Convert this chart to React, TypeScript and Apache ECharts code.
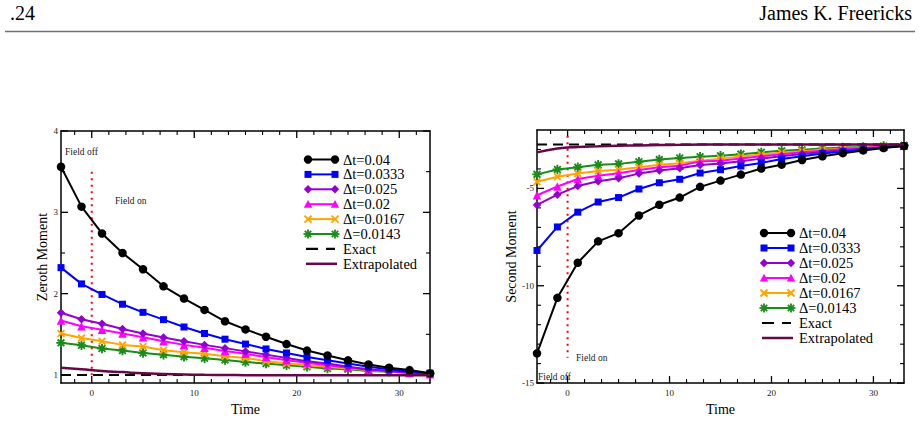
import React, { useEffect, useRef } from "react";
import * as echarts from "echarts";

// ---------- DATA ----------
const times = [-3, -1, 1, 3, 5, 7, 9, 11, 13, 15, 17, 19, 21, 23, 25, 27, 29, 31, 33];
const legendNames = ["Δt=0.04", "Δt=0.0333", "Δt=0.025", "Δt=0.02", "Δt=0.0167", "Δ=0.0143", "Exact", "Extrapolated"];

const zerothDt040 = [3.56, 3.07, 2.74, 2.50, 2.30, 2.09, 1.94, 1.80, 1.66, 1.56, 1.47, 1.38, 1.30, 1.24, 1.18, 1.13, 1.09, 1.06, 1.02];
const zerothDt0333 = [2.32, 2.12, 1.99, 1.87, 1.77, 1.68, 1.59, 1.51, 1.44, 1.38, 1.32, 1.27, 1.22, 1.18, 1.14, 1.10, 1.07, 1.04, 1.02];
const zerothDt025 = [1.765, 1.685, 1.63, 1.565, 1.51, 1.46, 1.415, 1.37, 1.33, 1.29, 1.25, 1.21, 1.17, 1.14, 1.10, 1.07, 1.05, 1.03, 1.01];
const zerothDt020 = [1.67, 1.60, 1.555, 1.51, 1.465, 1.415, 1.37, 1.335, 1.295, 1.26, 1.22, 1.18, 1.15, 1.12, 1.09, 1.065, 1.045, 1.025, 1.01];
const zerothDt0167 = [1.51, 1.455, 1.415, 1.37, 1.35, 1.305, 1.28, 1.26, 1.23, 1.21, 1.17, 1.14, 1.12, 1.10, 1.08, 1.06, 1.04, 1.02, 1.01];
const zerothDt0143 = [1.395, 1.365, 1.325, 1.30, 1.27, 1.25, 1.225, 1.205, 1.185, 1.16, 1.14, 1.12, 1.10, 1.08, 1.07, 1.05, 1.04, 1.03, 1.02];
const zerothExactT = [-3, 33];
const zerothExact = [1.0, 1.0];
const zerothExtrap = [1.09, 1.07, 1.05, 1.035, 1.02, 1.012, 1.006, 1.002, 1.0, 0.998, 0.997, 0.996, 0.996, 0.996, 0.996, 0.996, 0.996, 0.996, 0.996];
const zerothFieldT = [0, 0];
const zerothFieldY = [3.5, 1.0];

const secondDt040 = [-13.47, -10.62, -8.82, -7.72, -7.30, -6.39, -5.84, -5.47, -4.92, -4.60, -4.29, -3.98, -3.78, -3.54, -3.35, -3.19, -3.05, -2.93, -2.82];
const secondDt0333 = [-8.19, -6.98, -6.22, -5.70, -5.47, -5.03, -4.71, -4.53, -4.21, -4.04, -3.85, -3.69, -3.49, -3.35, -3.21, -3.11, -3.02, -2.90, -2.82];
const secondDt025 = [-5.85, -5.32, -4.88, -4.63, -4.48, -4.24, -4.08, -3.97, -3.80, -3.72, -3.60, -3.47, -3.35, -3.23, -3.13, -3.04, -2.96, -2.89, -2.81];
const secondDt020 = [-5.35, -4.90, -4.52, -4.35, -4.22, -4.06, -3.91, -3.83, -3.62, -3.58, -3.46, -3.35, -3.24, -3.14, -3.06, -2.98, -2.92, -2.86, -2.80];
const secondDt0167 = [-4.66, -4.40, -4.24, -4.11, -4.04, -3.91, -3.79, -3.71, -3.58, -3.47, -3.36, -3.26, -3.17, -3.09, -3.02, -2.96, -2.90, -2.85, -2.80];
const secondDt0143 = [-4.28, -4.03, -3.91, -3.79, -3.74, -3.63, -3.52, -3.44, -3.37, -3.32, -3.24, -3.15, -3.07, -3.02, -2.95, -2.90, -2.87, -2.82, -2.79];
const secondExactT = [-3, 33];
const secondExact = [-2.74, -2.74];
const secondExtrap = [-3.15, -2.95, -2.87, -2.84, -2.81, -2.79, -2.77, -2.76, -2.75, -2.74, -2.74, -2.74, -2.74, -2.74, -2.74, -2.74, -2.74, -2.74, -2.74];
const secondFieldT = [0, 0];
const secondFieldY = [-2.3, -13.7];

const timeRange = [-3, 33];
const zerothRange = [0.9, 4];
const secondRange = [-15, -2];
const xMajorTicks = [0, 10, 20, 30];
const xMinorTicks = [-1.667, 1.667, 3.333, 5, 6.667, 8.333, 11.667, 13.333, 15, 16.667, 18.333, 21.667, 23.333, 25, 26.667, 28.333, 31.667];
const zerothMajorTicks = [1, 2, 3, 4];
const zerothMinorTicks = [1.5, 2.5, 3.5];
const secondMajorTicks = [-15, -10, -5];
const secondMinorTicks = [-14, -13, -12, -11, -9, -8, -7, -6, -4, -3];

// ---------- STYLE ----------
const SERIF = '"Liberation Serif", "DejaVu Serif", serif';
const COLORS = ["#000000", "#0000ff", "#9400d3", "#ff00ff", "#ffa500", "#1a8c1a", "#000000", "#670748"];
const CROSS_PATH = "path://M2.83,-4.24L4.24,-2.83L-2.83,4.24L-4.24,2.83ZM-4.24,-2.83L-2.83,-4.24L4.24,2.83L2.83,4.24Z";
const STAR_PATH =
  "path://M-1,-5L1,-5L1,5L-1,5ZM-5,-1L5,-1L5,1L-5,1ZM2.83,-4.24L4.24,-2.83L-2.83,4.24L-4.24,2.83ZM-4.24,-2.83L-2.83,-4.24L4.24,2.83L2.83,4.24Z";
const SYMBOLS = ["circle", "rect", "diamond", "triangle", CROSS_PATH, STAR_PATH];
const SYMBOL_SIZES = [8.5, 7, 8.5, 8.5, 8, 9.5];
const MARKER_KINDS = ["circle", "rect", "diamond", "triangle", "cross", "star"];

const zip = (xs: number[], ys: number[]) => xs.map((x, i) => [x, ys[i]]);

function axesFor(grid: number, dim: "x" | "y", range: number[], majors: number[], name: string, nameGap: number, labelMargin: number) {
  const isX = dim === "x";
  const base = { gridIndex: grid, type: "value", min: range[0], max: range[1], splitLine: { show: false }, axisTick: { show: false } };
  const line = { show: true, onZero: false, lineStyle: { color: "#000", width: 1.5 } };
  return [
    {
      ...base,
      position: isX ? "bottom" : "left",
      name,
      nameLocation: "middle",
      nameGap,
      nameTextStyle: { fontFamily: SERIF, fontSize: 14, color: "#000" },
      axisLine: line,
      axisLabel: { show: true, customValues: majors, fontFamily: SERIF, fontSize: 9, color: "#222", margin: labelMargin },
    },
    { ...base, position: isX ? "top" : "right", axisLine: line, axisLabel: { show: false } },
  ];
}

function seriesFor(axisIdx: number, curves: number[][], exactT: number[], exact: number[], extrap: number[], fieldT: number[], fieldY: number[]) {
  const out: any[] = [];
  out.push({
    type: "line",
    name: "Field",
    xAxisIndex: axisIdx,
    yAxisIndex: axisIdx,
    data: zip(fieldT, fieldY),
    symbol: "none",
    lineStyle: { color: "#ff0000", width: 2, type: [2, 4.5] },
    z: 1,
  });
  curves.forEach((vals, i) => {
    out.push({
      type: "line",
      name: legendNames[i],
      xAxisIndex: axisIdx,
      yAxisIndex: axisIdx,
      data: zip(times, vals),
      symbol: SYMBOLS[i],
      symbolSize: SYMBOL_SIZES[i],
      showSymbol: true,
      lineStyle: { color: COLORS[i], width: 2 },
      itemStyle: { color: COLORS[i] },
      z: 2 + (curves.length - i),
    });
  });
  out.push({
    type: "line",
    name: legendNames[6],
    xAxisIndex: axisIdx,
    yAxisIndex: axisIdx,
    data: zip(exactT, exact),
    symbol: "none",
    lineStyle: { color: COLORS[6], width: 2, type: [10, 6] },
    z: 9,
  });
  out.push({
    type: "line",
    name: legendNames[7],
    xAxisIndex: axisIdx,
    yAxisIndex: axisIdx,
    data: zip(times, extrap),
    symbol: "none",
    smooth: true,
    lineStyle: { color: COLORS[7], width: 2.5 },
    z: 10,
  });
  return out;
}

function marker(kind: string, cx: number, cy: number, color: string): any[] {
  switch (kind) {
    case "circle":
      return [{ type: "circle", shape: { cx, cy, r: 4.2 }, style: { fill: color } }];
    case "rect":
      return [{ type: "rect", shape: { x: cx - 3.5, y: cy - 3.5, width: 7, height: 7 }, style: { fill: color } }];
    case "diamond":
      return [{ type: "polygon", shape: { points: [[cx, cy - 4.2], [cx + 4.2, cy], [cx, cy + 4.2], [cx - 4.2, cy]] }, style: { fill: color } }];
    case "triangle":
      return [{ type: "polygon", shape: { points: [[cx, cy - 4.2], [cx + 4.2, cy + 3.6], [cx - 4.2, cy + 3.6]] }, style: { fill: color } }];
    case "cross":
      return [
        { type: "line", shape: { x1: cx - 3.5, y1: cy - 3.5, x2: cx + 3.5, y2: cy + 3.5 }, style: { stroke: color, lineWidth: 2 } },
        { type: "line", shape: { x1: cx - 3.5, y1: cy + 3.5, x2: cx + 3.5, y2: cy - 3.5 }, style: { stroke: color, lineWidth: 2 } },
      ];
    case "star":
      return [
        { type: "line", shape: { x1: cx - 4.5, y1: cy, x2: cx + 4.5, y2: cy }, style: { stroke: color, lineWidth: 1.8 } },
        { type: "line", shape: { x1: cx, y1: cy - 4.5, x2: cx, y2: cy + 4.5 }, style: { stroke: color, lineWidth: 1.8 } },
        { type: "line", shape: { x1: cx - 3.2, y1: cy - 3.2, x2: cx + 3.2, y2: cy + 3.2 }, style: { stroke: color, lineWidth: 1.8 } },
        { type: "line", shape: { x1: cx - 3.2, y1: cy + 3.2, x2: cx + 3.2, y2: cy - 3.2 }, style: { stroke: color, lineWidth: 1.8 } },
      ];
  }
  return [];
}

function legendGraphic(x1: number, x2: number, textX: number, y0: number, dy: number): any[] {
  const els: any[] = [];
  legendNames.forEach((nm, i) => {
    const y = y0 + i * dy;
    const color = COLORS[i];
    if (i < 6) {
      els.push({ type: "line", shape: { x1, y1: y, x2, y2: y }, style: { stroke: color, lineWidth: 2 } });
      els.push(...marker(MARKER_KINDS[i], x1, y, color));
      els.push(...marker(MARKER_KINDS[i], x2, y, color));
    } else if (i === 6) {
      els.push({ type: "line", shape: { x1: x1 - 2, y1: y, x2, y2: y }, style: { stroke: color, lineWidth: 2.2, lineDash: [12, 8] } });
    } else {
      els.push({ type: "line", shape: { x1: x1 - 2, y1: y, x2: x2 + 2, y2: y }, style: { stroke: color, lineWidth: 2.5 } });
    }
    els.push({
      type: "text",
      x: textX,
      y,
      style: { text: nm, fontFamily: SERIF, fontSize: 14.5, fill: "#000", align: "left", verticalAlign: "middle" },
    });
  });
  return els;
}

const smallText = (text: string, x: number, y: number) => ({
  type: "text",
  x,
  y,
  style: { text, fontFamily: SERIF, fontSize: 9.5, fill: "#222", align: "left", verticalAlign: "middle" },
});

// frame ticks (inside, mirrored on all four sides), positioned through the chart's own scales
function tickGraphic(chart: any, grid: number, xr: number[], yr: number[], xMaj: number[], xMin: number[], yMaj: number[], yMin: number[]): any[] {
  const els: any[] = [];
  const px = (x: number, y: number) => chart.convertToPixel({ gridIndex: grid }, [x, y]);
  const st = (w: number) => ({ stroke: "#000", lineWidth: w });
  const addX = (vals: number[], len: number, w: number) =>
    vals.forEach((v) => {
      const b = px(v, yr[0]);
      const t = px(v, yr[1]);
      els.push({ type: "line", shape: { x1: b[0], y1: b[1], x2: b[0], y2: b[1] - len }, style: st(w) });
      els.push({ type: "line", shape: { x1: t[0], y1: t[1], x2: t[0], y2: t[1] + len }, style: st(w) });
    });
  const addY = (vals: number[], len: number, w: number) =>
    vals.forEach((v) => {
      const l = px(xr[0], v);
      const r = px(xr[1], v);
      els.push({ type: "line", shape: { x1: l[0], y1: l[1], x2: l[0] + len, y2: l[1] }, style: st(w) });
      els.push({ type: "line", shape: { x1: r[0], y1: r[1], x2: r[0] - len, y2: r[1] }, style: st(w) });
    });
  addX(xMaj, 7, 1.3);
  addX(xMin, 4, 1.1);
  addY(yMaj, 7, 1.3);
  addY(yMin, 4, 1.1);
  return els;
}

export default function App() {
  const ref = useRef<HTMLDivElement>(null);
  useEffect(() => {
    if (!ref.current) return;
    const chart = echarts.init(ref.current, undefined, { renderer: "svg" });
    const option: any = {
      animation: false,
      backgroundColor: "#ffffff",
      grid: [
        { left: 61, top: 131, width: 369, height: 257 },
        { left: 537, top: 130, width: 367, height: 258 },
      ],
      xAxis: [
        ...axesFor(0, "x", timeRange, xMajorTicks, "Time", 15, 5),
        ...axesFor(1, "x", timeRange, xMajorTicks, "Time", 15, 5),
      ],
      yAxis: [
        ...axesFor(0, "y", zerothRange, zerothMajorTicks, "Zeroth Moment", 11, 3),
        ...axesFor(1, "y", secondRange, secondMajorTicks, "Second Moment", 19, 3),
      ],
      series: [
        ...seriesFor(0, [zerothDt040, zerothDt0333, zerothDt025, zerothDt020, zerothDt0167, zerothDt0143], zerothExactT, zerothExact, zerothExtrap, zerothFieldT, zerothFieldY),
        ...seriesFor(2, [secondDt040, secondDt0333, secondDt025, secondDt020, secondDt0167, secondDt0143], secondExactT, secondExact, secondExtrap, secondFieldT, secondFieldY),
      ],
    };
    chart.setOption(option);
    const graphic = [
      { type: "text", x: 10, y: 13, style: { text: ".24", fontFamily: SERIF, fontSize: 20, fill: "#000", align: "left", verticalAlign: "middle" } },
      { type: "text", x: 912, y: 13, style: { text: "James K. Freericks", fontFamily: SERIF, fontSize: 20, fill: "#000", align: "right", verticalAlign: "middle" } },
      { type: "line", shape: { x1: 5, y1: 31.5, x2: 915, y2: 31.5 }, style: { stroke: "#707070", lineWidth: 1.6 } },
      smallText("Field off", 65, 152),
      smallText("Field on", 115, 201),
      smallText("Field on", 576, 358),
      smallText("Field off", 538, 377),
      ...legendGraphic(308, 335, 343, 159.5, 14.9),
      ...legendGraphic(764, 791, 799, 233, 15),
      ...tickGraphic(chart, 0, timeRange, zerothRange, xMajorTicks, xMinorTicks, zerothMajorTicks, zerothMinorTicks),
      ...tickGraphic(chart, 1, timeRange, secondRange, xMajorTicks, xMinorTicks, secondMajorTicks, secondMinorTicks),
    ];
    chart.setOption({ graphic });
    return () => chart.dispose();
  }, []);
  return <div ref={ref} style={{ position: "absolute", left: 0, top: 0, width: 920, height: 421 }} />;
}
